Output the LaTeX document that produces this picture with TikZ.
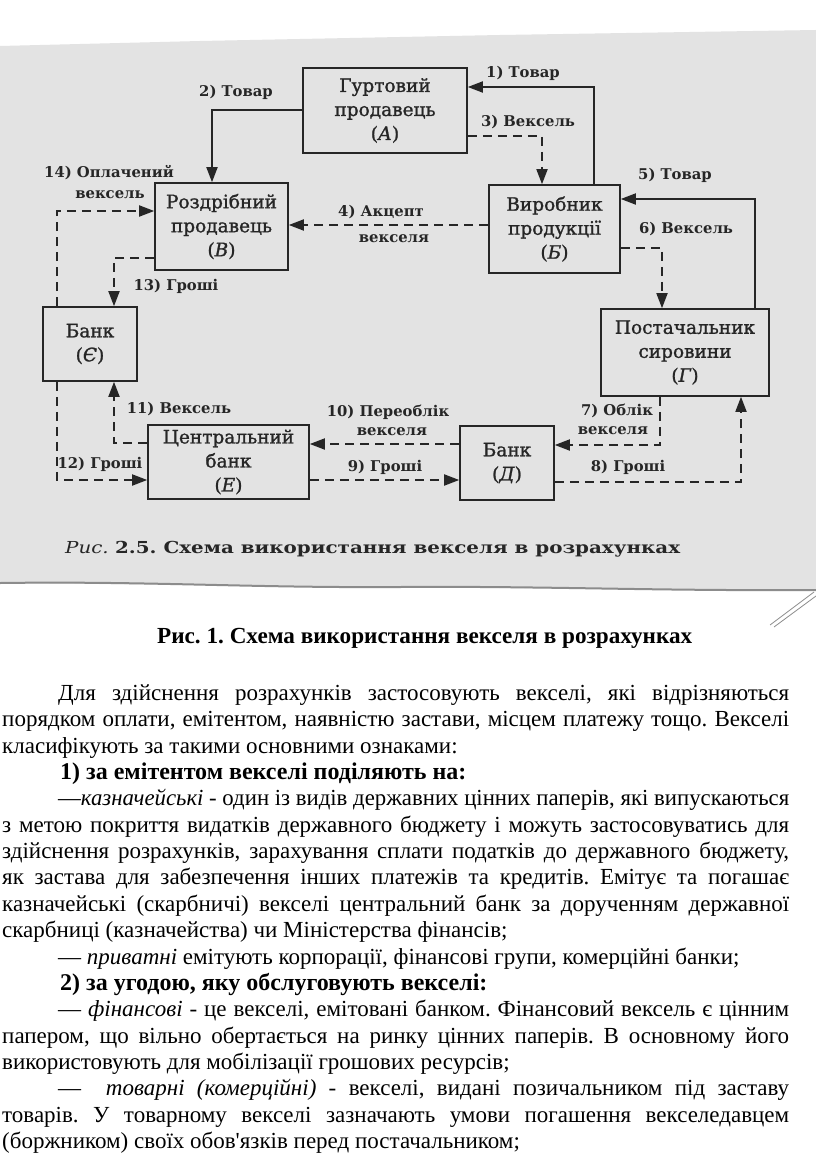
\documentclass[tikz,border=0pt]{standalone}
\usepackage{fontspec}
\usepackage{graphicx}
\usetikzlibrary{arrows.meta}
\setmainfont{Liberation Serif}
\newfontfamily\dfont{DejaVu Serif}
\newfontfamily\dbfont[FakeBold=1.3]{DejaVu Serif}
\definecolor{ink}{HTML}{262626}
\definecolor{paper}{HTML}{E3E3E3}
\definecolor{tear}{HTML}{8C8C8C}
\frenchspacing
\newcommand\jl[2]{\setbox0=\hbox{#2}\ifdim\wd0>#1\relax\resizebox{#1}{\height}{\box0}\else\makebox[#1][s]{#2}\fi}
\newcommand\fw[2]{\resizebox{#1}{\height}{#2}}
\tikzset{
  boxn/.style={draw=ink, line width=1.6pt, inner sep=0pt, align=center, text=ink,
    font=\dbfont\fontsize{18.5}{24}\selectfont},
  lbl/.style={inner sep=0pt, text=ink, font=\dfont\bfseries\fontsize{14.8}{17}\selectfont},
  sarr/.style={draw=ink, line width=1.8pt, -{Triangle[length=15pt,width=11pt]}},
  darr/.style={sarr, dash pattern=on 9pt off 6pt},
  body/.style={anchor=base west, inner sep=0pt, font=\fontsize{23}{26}\selectfont},
  bodyb/.style={body, font=\fontsize{24}{26}\selectfont\bfseries},
}
\begin{document}
\begin{tikzpicture}[x=1pt,y=-1pt]
\useasboundingbox (0,0) rectangle (816,1156);
\fill[white] (0,0) rectangle (816,1156);
% scanned page area
\fill[paper] (0,46) -- (200,41) -- (500,35) -- (816,30) -- (816,590) -- (600,589) -- (300,586) -- (0,583) -- cycle;
\draw[tear, line width=2pt] (0,583) .. controls (150,581) and (250,588) .. (400,587) .. controls (550,586) and (650,591) .. (816,590);
\draw[tear, line width=0.8pt] (770,625) -- (814,592);
\draw[tear, line width=0.8pt] (774,627) -- (816,596);

% boxes
\node[boxn, minimum width=164pt, minimum height=85pt] (A) at (385,110.5) {Гуртовий\\продавець\\(\textit{А})};
\node[boxn, minimum width=133pt, minimum height=87pt] (Bp) at (221.5,226.5) {Роздрібний\\продавець\\(\textit{В})};
\node[boxn, minimum width=131pt, minimum height=88pt] (Bv) at (554.5,229) {Виробник\\продукції\\(\textit{Б})};
\node[boxn, minimum width=94pt, minimum height=74pt] (Ye) at (90,344) {Банк\\(\textit{Є})};
\node[boxn, minimum width=168pt, minimum height=87pt] (G) at (685,352.5) {Постачальник\\сировини\\(\textit{Г})};
\node[boxn, minimum width=161pt, minimum height=74pt] (E) at (228.5,462) {Центральний\\банк\\(\textit{Е})};
\node[boxn, minimum width=94pt, minimum height=74pt] (D) at (507,463) {Банк\\(\textit{Д})};

% connectors
\draw[sarr] (Bv.north -| 594,0) |- (A.east |- 0,87);
\draw[sarr] (A.west |- 0,110) -| (Bp.north -| 212,0);
\draw[darr] (A.east |- 0,136) -| (Bv.north -| 542,0);
\draw[darr] (Bv.west |- 0,225) -- (Bp.east |- 0,225);
\draw[sarr] (G.north -| 755,0) |- (Bv.east |- 0,199);
\draw[darr] (Bv.east |- 0,248) -| (G.north -| 662,0);
\draw[darr] (G.south -| 660,0) |- (D.east |- 0,445);
\draw[darr] (D.east |- 0,482) -| (G.south -| 741,0);
\draw[darr] (E.east |- 0,480) -- (D.west |- 0,480);
\draw[darr] (D.west |- 0,444) -- (E.east |- 0,444);
\draw[darr] (E.west |- 0,443) -| (Ye.south -| 114,0);
\draw[darr] (Ye.south -| 57,0) |- (E.west |- 0,480);
\draw[darr] (Bp.west |- 0,258) -| (Ye.north -| 114,0);
\draw[darr] (Ye.north -| 57,0) |- (Bp.west |- 0,211);

% labels
\node[lbl] (l1) at (523,73) {1) Товар};
\node[lbl] (l2) at (236,92) {2) Товар};
\node[lbl] (l3) at (528,122) {3) Вексель};
\node[lbl] (l4a) at (381,212) {4) Акцепт};
\node[lbl] (l4b) at (394,239) {векселя};
\node[lbl] (l5) at (675,175) {5) Товар};
\node[lbl] (l6) at (686,229) {6) Вексель};
\node[lbl] (l7a) at (617,411) {7) Облік};
\node[lbl] (l7b) at (613,431) {векселя};
\node[lbl] (l8) at (628,467) {8) Гроші};
\node[lbl] (l9) at (385,467) {9) Гроші};
\node[lbl] (l10a) at (388,412) {10) Переоблік};
\node[lbl] (l10b) at (392,432) {векселя};
\node[lbl] (l11) at (179,409) {11) Вексель};
\node[lbl] (l12) at (100,464) {12) Гроші};
\node[lbl] (l13) at (176,286) {13) Гроші};
\node[lbl] (l14a) at (109,173) {14) Оплачений};
\node[lbl] (l14b) at (110,195) {вексель};

% old caption
\node[inner sep=0pt, text=ink, anchor=west] (cap1) at (65,549) {\fw{615pt}{\dfont\fontsize{16.5}{20}\selectfont\textit{Рис.} \textbf{2.5. Схема використання векселя в розрахунках}}};
% new caption
\node[inner sep=0pt, anchor=west] (cap2) at (157,638) {\fw{535pt}{\fontsize{23}{26}\selectfont\bfseries Рис. 1. Схема використання векселя в розрахунках}};

% body text
\node[body] (t1) at (58,700.5) {\jl{731pt}{Для здійснення розрахунків застосовують векселі, які відрізняються}};
\node[body] (t2) at (2,726.85) {\jl{787pt}{порядком оплати, емітентом, наявністю застави, місцем платежу тощо. Векселі}};
\node[body] (t3) at (2,753.2) {класифікують за такими основними ознаками:};
\node[bodyb] (t4) at (60,779.55) {1) за емітентом векселі поділяють на:};
\node[body] (t5) at (58,805.9) {\jl{731pt}{—\textit{казначейські} - один із видів державних цінних паперів, які випускаються}};
\node[body] (t6) at (2,832.25) {\jl{787pt}{з метою покриття видатків державного бюджету і можуть застосовуватись для}};
\node[body] (t7) at (2,858.6) {\jl{787pt}{здійснення розрахунків, зарахування сплати податків до державного бюджету,}};
\node[body] (t8) at (2,884.95) {\jl{787pt}{як застава для забезпечення інших платежів та кредитів. Емітує та погашає}};
\node[body] (t9) at (2,911.3) {\jl{787pt}{казначейські (скарбничі) векселі центральний банк за дорученням державної}};
\node[body] (t10) at (2,937.65) {скарбниці (казначейства) чи Міністерства фінансів;};
\node[body] (t11) at (58,964) {— \textit{приватні} емітують корпорації, фінансові групи, комерційні банки;};
\node[bodyb] (t12) at (60,990.35) {2) за угодою, яку обслуговують векселі:};
\node[body] (t13) at (58,1016.7) {\jl{731pt}{— \textit{фінансові} - це векселі, емітовані банком. Фінансовий вексель є цінним}};
\node[body] (t14) at (2,1043.05) {\jl{787pt}{папером, що вільно обертається на ринку цінних паперів. В основному його}};
\node[body] (t15) at (2,1069.4) {використовують для мобілізації грошових ресурсів;};
\node[body] (t16) at (58,1095.75) {\jl{731pt}{— \ \textit{товарні (комерційні)} - векселі, видані позичальником під заставу}};
\node[body] (t17) at (2,1122.1) {\jl{787pt}{товарів. У товарному векселі зазначають умови погашення векселедавцем}};
\node[body] (t18) at (2,1148.45) {(боржником) своїх обов\textquotesingle язків перед постачальником;};
\end{tikzpicture}
\end{document}
